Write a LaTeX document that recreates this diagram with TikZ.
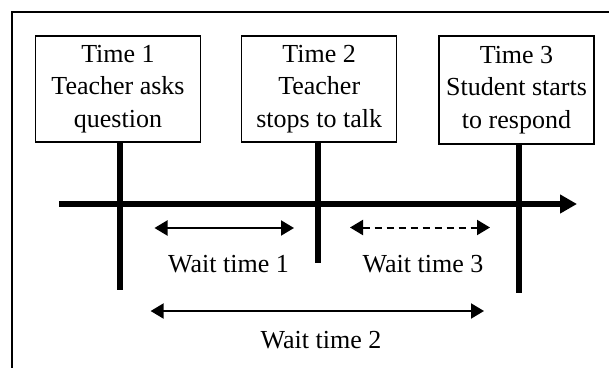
\documentclass[tikz,border=0pt]{standalone}
\usepackage{fontspec}
\setmainfont{Liberation Serif}
\usetikzlibrary{arrows.meta}
\tikzset{
  box/.style={draw, line width=1.3pt, minimum width=165pt, minimum height=106pt, align=center, inner sep=0pt, font=\fontsize{26}{32.5}\selectfont},
  lbl/.style={font=\fontsize{26}{30}\selectfont, inner sep=0pt, anchor=base},
  tick/.style={line width=6pt},
  axis/.style={line width=6pt, -{Triangle[length=17pt,width=18pt]}},
  span/.style={line width=2pt, {Triangle[length=13pt,width=15pt]}-{Triangle[length=13pt,width=15pt]}},
  frame/.style={line width=1.4pt}
}
\begin{document}
\begin{tikzpicture}[x=1pt,y=-1pt]
\useasboundingbox (0,0) rectangle (609,367);
\coordinate (f0) at (12,380);
\coordinate (f1) at (12,12);
\coordinate (f2) at (620,12);
\draw[frame] (f0) -- (f1) -- (f2);

\node[box] (b1) at (118,89) {Time 1\\Teacher asks\\question};
\node[box, minimum width=155pt] (b2) at (319.2,89) {Time 2\\Teacher\\stops to talk};
\node[box, minimum width=155pt, minimum height=108pt] (b3) at (516.5,90) {Time 3\\Student starts\\to respond};

\coordinate (t1a) at (120,142);
\coordinate (t1b) at (120,290);
\coordinate (t2a) at (318,142);
\coordinate (t2b) at (318,263);
\coordinate (t3a) at (519.4,144);
\coordinate (t3b) at (519.4,293);
\draw[tick] (t1a) -- (t1b);
\draw[tick] (t2a) -- (t2b);
\draw[tick] (t3a) -- (t3b);

\coordinate (ax0) at (59.4,204);
\coordinate (ax1) at (577,204);
\draw[axis] (ax0) -- (ax1);

\coordinate (w1a) at (154.5,228);
\coordinate (w1b) at (294,228);
\draw[span] (w1a) -- (w1b);
\coordinate (w3a) at (350,227.5);
\coordinate (w3b) at (490,227.5);
\draw[span, dash pattern=on 7pt off 5pt] (w3a) -- (w3b);
\coordinate (w2a) at (150.6,311);
\coordinate (w2b) at (484,311);
\draw[span] (w2a) -- (w2b);

\node[lbl] (l1) at (228.5,272) {Wait time 1};
\node[lbl] (l3) at (423,272) {Wait time 3};
\node[lbl] (l2) at (321,348) {Wait time 2};
\end{tikzpicture}
\end{document}
